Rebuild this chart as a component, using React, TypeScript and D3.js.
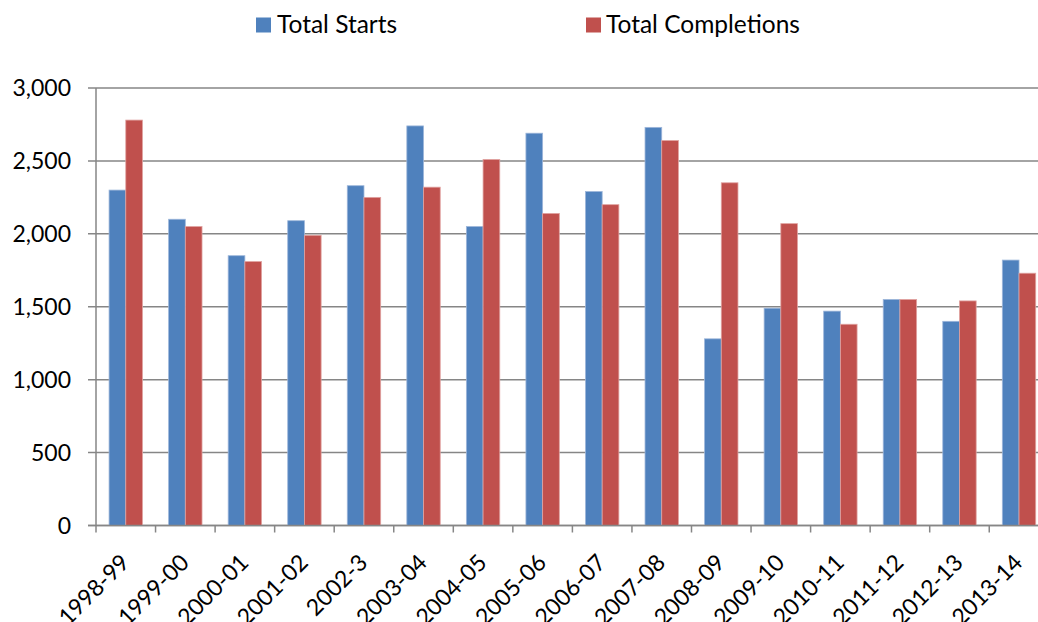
import React from "react";
import * as d3 from "d3";

const categories = ["1998-99","1999-00","2000-01","2001-02","2002-3","2003-04","2004-05","2005-06","2006-07","2007-08","2008-09","2009-10","2010-11","2011-12","2012-13","2013-14"];
const totalStarts = [2300,2100,1850,2090,2330,2740,2050,2690,2290,2730,1280,1490,1470,1550,1400,1820];
const totalCompletions = [2780,2050,1810,1990,2250,2320,2510,2140,2200,2640,2350,2070,1380,1550,1540,1730];
const seriesNames = ["Total Starts","Total Completions"];
const seriesColors = ["#4F81BD","#C0504D"];
const seriesStroke = ["#9DB6DA","#E0A3A1"];
const yTicks = [0,500,1000,1500,2000,2500,3000];

const W = 1038, H = 622;
const left = 96, top = 88, bottom = 525.5, right = 96 + 16 * 59.55;
const FONT = "Lato, 'Noto Sans', sans-serif";

export default function App() {
  const x0 = d3.scaleBand<string>().domain(categories).range([left, right]).paddingInner(0).paddingOuter(0);
  const x1 = d3.scaleBand<string>().domain(seriesNames).range([0, x0.bandwidth()]).paddingInner(0).paddingOuter(0.783);
  const y = d3.scaleLinear().domain([0, 3000]).range([bottom, top]);
  const fmt = d3.format(",");
  const data = [totalStarts, totalCompletions];
  const grid = "#868686";

  return (
    <svg width={W} height={H} style={{ position: "absolute", left: 0, top: 0, background: "#fff" }} fontFamily={FONT}>
      {yTicks.map((t) => (
        <g key={t}>
          <line x1={left - 8} x2={W + 20} y1={y(t)} y2={y(t)} stroke={grid} strokeWidth={1.5} />
          <text x={71} y={y(t)} dy="0.36em" textAnchor="end" fontSize={23} fill="#000">{fmt(t)}</text>
        </g>
      ))}
      {data.map((vals, si) =>
        vals.map((v, i) => (
          <rect
            key={`${si}-${i}`}
            x={(x0(categories[i]) as number) + (x1(seriesNames[si]) as number)}
            y={y(v)}
            width={x1.bandwidth()}
            height={bottom - y(v)}
            fill={seriesColors[si]}
            stroke={seriesStroke[si]}
            strokeWidth={0.8}
          />
        ))
      )}
      <line x1={left} x2={left} y1={top} y2={bottom} stroke={grid} strokeWidth={1.5} />
      <line x1={left - 8} x2={W + 20} y1={bottom} y2={bottom} stroke={grid} strokeWidth={1.5} />
      {categories.map((c, i) => (
        <line key={"t" + i} x1={(x0(c) as number)} x2={(x0(c) as number)} y1={bottom} y2={bottom + 7} stroke={grid} strokeWidth={1.5} />
      ))}
      <line x1={right} x2={right} y1={bottom} y2={bottom + 7} stroke={grid} strokeWidth={1.5} />
      {categories.map((c) => {
        const cx = (x0(c) as number) + x0.bandwidth() / 2;
        return (
          <text key={"l" + c} transform={`translate(${cx + 5},${564}) rotate(-45)`} textAnchor="end" fontSize={23} fill="#000">{c}</text>
        );
      })}
      <rect x={256} y={17.5} width={15} height={15} fill={seriesColors[0]} />
      <text x={277} y={32.5} fontSize={24.5} fill="#000">{seriesNames[0]}</text>
      <rect x={586} y={17.5} width={15} height={15} fill={seriesColors[1]} />
      <text x={606} y={32.5} fontSize={24.5} fill="#000">{seriesNames[1]}</text>
    </svg>
  );
}
